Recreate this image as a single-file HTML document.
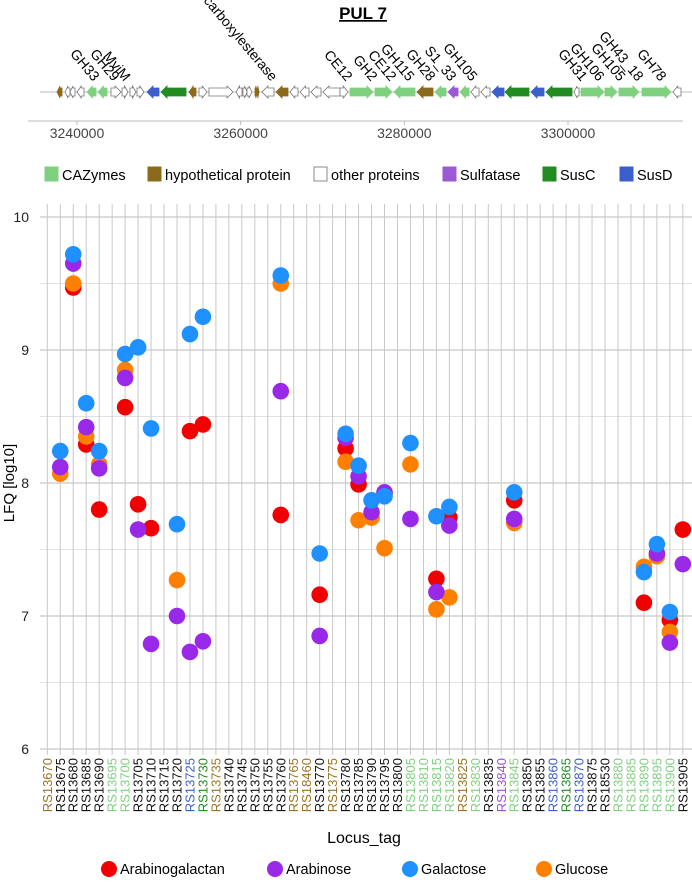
<!DOCTYPE html>
<html><head><meta charset="utf-8"><style>
body{margin:0;background:#fff}
svg{display:block;font-family:"Liberation Sans",Arial,sans-serif}
</style></head><body>
<svg id="c" width="692" height="889" viewBox="0 0 692 889" xmlns="http://www.w3.org/2000/svg">
<text x="363" y="19" font-size="17" font-weight="bold" text-anchor="middle" text-decoration="underline">PUL 7</text>
<line x1="40" y1="92" x2="692" y2="92" stroke="#bbb"/>
<g id="genes"></g>
<g id="glabels"></g>
<line x1="28" y1="121" x2="683" y2="121" stroke="#bbb"/>
<g id="gticks"></g>
<g id="glegend"></g>
<g id="grid"></g>
<g id="yticks"></g>
<text transform="translate(14,483) rotate(-90)" font-size="15" text-anchor="middle">LFQ [log10]</text>
<g id="xlabels"></g>
<text x="364" y="843" font-size="16" text-anchor="middle">Locus_tag</text>
<g id="points"></g>
<g id="legend"></g>
</svg>
<script>
const locusTags=["RS13670","RS13675","RS13680","RS13685","RS13690","RS13695","RS13700","RS13705","RS13710","RS13715","RS13720","RS13725","RS13730","RS13735","RS13740","RS13745","RS13750","RS13755","RS13760","RS13765","RS18460","RS13770","RS13775","RS13780","RS13785","RS13790","RS13795","RS13800","RS13805","RS13810","RS13815","RS13820","RS13825","RS13830","RS13835","RS13840","RS13845","RS13850","RS13855","RS13860","RS13865","RS13870","RS13875","RS18530","RS13880","RS13885","RS13890","RS13895","RS13900","RS13905"];
const tagTypes=["h","o","o","o","o","c","c","o","o","o","o","d","s","h","o","o","o","o","o","h","h","o","h","o","o","o","o","o","c","c","c","c","h","c","o","f","c","o","o","d","s","d","o","o","c","c","c","c","c","o"];
const arabinogalactan=[null,null,9.47,8.29,7.80,null,8.57,7.84,7.66,null,
null,8.39,8.44,null,null,null,null,null,7.76,null,
null,7.16,null,8.26,7.99,null,7.92,null,null,null,
7.28,7.74,null,null,null,null,7.87,null,null,null,
null,null,null,null,null,null,7.10,null,6.97,7.65];
const arabinose=[null,8.12,9.65,8.42,8.11,null,8.79,7.65,6.79,null,
7.00,6.73,6.81,null,null,null,null,null,8.69,null,
null,6.85,null,8.34,8.05,7.78,7.93,null,7.73,null,
7.18,7.68,null,null,null,null,7.73,null,null,null,
null,null,null,null,null,null,null,7.47,6.80,7.39];
const galactose=[null,8.24,9.72,8.60,8.24,null,8.97,9.02,8.41,null,
7.69,9.12,9.25,null,null,null,null,null,9.56,null,
null,7.47,null,8.37,8.13,7.87,7.90,null,8.30,null,
7.75,7.82,null,null,null,null,7.93,null,null,null,
null,null,null,null,null,null,7.33,7.54,7.03,null];
const glucose=[null,8.07,9.50,8.35,8.14,null,8.85,null,null,null,
7.27,null,null,null,null,null,null,null,9.50,null,
null,null,null,8.16,7.72,7.74,7.51,null,8.14,null,
7.05,7.14,null,null,null,null,7.70,null,null,null,
null,null,null,null,null,null,7.37,7.45,6.88,null];
const yTicks=[6,7,8,9,10];
const genomeTicks=[3240000,3260000,3280000,3300000];
const genes=[[57,62,"L","h"],[65,70,"L","o"],[70,75,"L","o"],[77,84,"L","o"],[87,96,"L","c"],[98,107,"L","c"],[111,121,"R","o"],[122,128,"R","o"],[130,136,"R","o"],[137,144,"R","o"],[147,159,"L","d"],[161,186,"L","s"],[189,196,"L","h"],[199,207,"R","o"],[209,233,"R","o"],[236,242,"L","o"],[243,247,"R","o"],[247,252,"R","o"],[255,257,"R","h"],[257,259,"R","h"],[262,274,"L","o"],[276,288,"L","h"],[290,298,"L","o"],[300,309,"L","o"],[311,321,"L","o"],[323,340,"L","o"],[340,348,"R","o"],[350,373,"R","c"],[375,392,"R","c"],[394,415,"L","c"],[417,433,"L","h"],[435,446,"L","c"],[448,458,"L","f"],[460,469,"L","c"],[471,479,"L","o"],[481,490,"L","o"],[492,504,"L","d"],[505,529,"L","s"],[531,544,"L","d"],[546,572,"L","s"],[574,579,"L","o"],[581,604,"R","c"],[605,617,"R","c"],[619,639,"R","c"],[642,671,"R","c"],[673,681,"L","o"]];
const geneLabels=[["GH33",93],["GH29",113],["MviM",124],["carboxylesterase",271],["CE12",346],["GH2",371],["CE12",390],["GH115",408],["GH28",429],["S1_33",450],["GH105",471],["GH31",581],["GH106",598],["GH105",619],["GH43_18",637],["GH78",660]];
const NS="http://www.w3.org/2000/svg";
const fill={c:"#7fd17f",h:"#8c6a1c",o:"#fff",f:"#9b59d6",s:"#228b22",d:"#3a5fcd"};
const tagColor={c:"#7fd17f",h:"#9a7424",o:"#111",f:"#9b4fe0",s:"#228b22",d:"#3a5fcd"};
function mk(t,a,p){const e=document.createElementNS(NS,t);for(const k in a)e.setAttribute(k,a[k]);p.appendChild(e);return e;}
const gG=document.getElementById("genes");
genes.forEach(g=>{const [a,b,dir,t]=g;const len=b-a,hd=Math.min(6,len*0.6),y0=86,y1=98,ym=92,yb0=88,yb1=96;let pts;
 if(dir==="R")pts=[[a,yb0],[b-hd,yb0],[b-hd,y0],[b,ym],[b-hd,y1],[b-hd,yb1],[a,yb1]];
 else pts=[[b,yb0],[a+hd,yb0],[a+hd,y0],[a,ym],[a+hd,y1],[a+hd,yb1],[b,yb1]];
 const p=mk("polygon",{points:pts.map(q=>q.join(",")).join(" "),fill:fill[t],stroke:t==="o"?"#777":fill[t],"stroke-width":0.8},gG);
 
 });
const gL=document.getElementById("glabels");
geneLabels.forEach(l=>{const t=mk("text",{transform:`translate(${l[1]},82) rotate(50)`,"text-anchor":"end","font-size":14},gL);t.textContent=l[0];
 
 });
const gx=v=>77+(v-3240000)*(568-77)/60000;
const gT=document.getElementById("gticks");
genomeTicks.forEach(v=>{mk("line",{x1:gx(v),x2:gx(v),y1:121,y2:125,stroke:"#bbb"},gT);const t=mk("text",{x:gx(v),y:138,"font-size":14,fill:"#444","text-anchor":"middle"},gT);t.textContent=v;
 
 });
const gLeg=[["c","CAZymes",45],["h","hypothetical protein",148],["o","other proteins",314],["f","Sulfatase",443],["s","SusC",543],["d","SusD",620]];
const gLg=document.getElementById("glegend");
gLeg.forEach(e=>{mk("rect",{x:e[2],y:167,width:13,height:14,fill:fill[e[0]],stroke:e[0]==="o"?"#888":fill[e[0]]},gLg);const t=mk("text",{x:e[2]+17,y:180,"font-size":14.5},gLg);t.textContent=e[1];
 
 });
const xS=i=>47.3+i*12.97;
const yS=v=>749-(v-6)*133;
const grid=document.getElementById("grid");
for(let v=6;v<=10;v+=0.5){mk("line",{x1:40,x2:692,y1:yS(v),y2:yS(v),stroke:Number.isInteger(v)?"#b8b8b8":"#e2e2e2","stroke-width":1},grid);}
locusTags.forEach((_,i)=>{mk("line",{x1:xS(i),x2:xS(i),y1:204,y2:755,stroke:"#c8c8c8","stroke-width":1},grid);});
const yT=document.getElementById("yticks");
yTicks.forEach(v=>{const t=mk("text",{x:29,y:yS(v)+5,"font-size":14,"text-anchor":"end",fill:"#222"},yT);t.textContent=v;
 
 });
const xl=document.getElementById("xlabels");
locusTags.forEach((s,i)=>{const t=mk("text",{transform:`translate(${xS(i)+4.5},758) rotate(-90)`,"text-anchor":"end","font-size":13,fill:tagColor[tagTypes[i]]},xl);t.textContent=s;
 
 });
const series=[[arabinogalactan,"#f00000","arabinogalactan"],[glucose,"#ff8000","glucose"],[arabinose,"#9a28e8","arabinose"],[galactose,"#1e90ff","galactose"]];
const pg=document.getElementById("points");
series.forEach(s=>{s[0].forEach((v,i)=>{if(v==null)return;const c=mk("circle",{cx:xS(i),cy:yS(v),r:8.3,fill:s[1]},pg);
 
 });});
const leg=[["#f00000","Arabinogalactan",109],["#9a28e8","Arabinose",275],["#1e90ff","Galactose",410],["#ff8000","Glucose",544]];
const lg=document.getElementById("legend");
leg.forEach(e=>{mk("circle",{cx:e[2],cy:869,r:8,fill:e[0]},lg);const t=mk("text",{x:e[2]+11,y:874,"font-size":14.5},lg);t.textContent=e[1];
 
 });
</script>
</body></html>
